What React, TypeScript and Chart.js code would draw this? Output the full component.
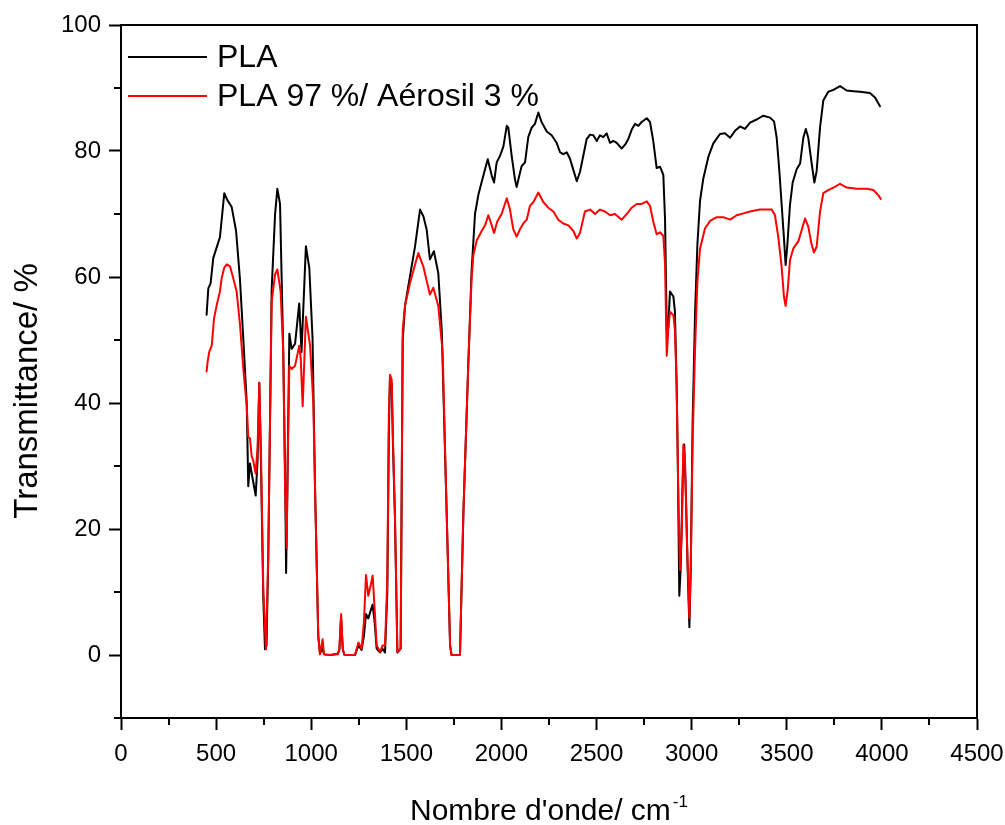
import React, { useEffect, useRef } from "react";
import { Chart, registerables } from "chart.js";

Chart.register(...registerables);

const seriesLabels = ["PLA", "PLA 97 %/ Aérosil 3 %"];
const xTickValues = [0, 500, 1000, 1500, 2000, 2500, 3000, 3500, 4000, 4500];
const yTickValues = [0, 20, 40, 60, 80, 100];
const xMinorTicks = [250, 750, 1250, 1750, 2250, 2750, 3250, 3750, 4250];
const yMinorTicks = [-10, 10, 30, 50, 70, 90];

const plaWavenumber = [
  450, 459, 471, 485, 503, 520, 543, 559, 582, 605, 625, 643, 661, 669, 678, 695, 708, 718, 727, 736,
  748, 757, 765, 774, 792, 810, 822, 836, 853, 862, 868, 874, 885, 897, 915, 937, 949, 972, 990, 1007,
  1020, 1037, 1046, 1060, 1067, 1100, 1140, 1148, 1157, 1166, 1175, 1230, 1248, 1265, 1277, 1288, 1300, 1312, 1323, 1334,
  1344, 1362, 1375, 1388, 1400, 1408, 1414, 1423, 1430, 1440, 1453, 1470, 1481, 1493, 1519, 1546, 1572, 1590, 1607, 1624,
  1645, 1668, 1686, 1712, 1730, 1738, 1782, 1800, 1826, 1843, 1861, 1879, 1905, 1928, 1949, 1961, 1975, 1992, 2010, 2028,
  2036, 2054, 2071, 2080, 2094, 2106, 2124, 2141, 2159, 2176, 2194, 2211, 2238, 2264, 2290, 2308, 2325, 2343, 2360, 2378,
  2396, 2413, 2430, 2448, 2466, 2483, 2501, 2518, 2535, 2553, 2571, 2588, 2606, 2632, 2650, 2667, 2685, 2702, 2720, 2737,
  2764, 2781, 2798, 2816, 2834, 2851, 2860, 2869, 2877, 2886, 2904, 2912, 2921, 2927, 2935, 2942, 2953, 2961, 2970, 2979,
  2988, 2995, 3005, 3018, 3030, 3044, 3061, 3088, 3114, 3149, 3175, 3202, 3228, 3254, 3280, 3307, 3342, 3377, 3412, 3433,
  3447, 3461, 3473, 3485, 3494, 3503, 3517, 3531, 3552, 3570, 3587, 3600, 3613, 3631, 3645, 3657, 3675, 3692, 3718, 3745,
  3780, 3815, 3850, 3885, 3937, 3964, 3990,
];
const plaTransmittance = [
  54.0, 58.2, 59.0, 63.0, 64.7, 66.3, 73.3, 72.2, 71.1, 67.3, 59.8, 50.2, 40.0, 26.8, 30.4, 27.5, 25.3, 31.0, 43.2, 30.0,
  9.0, 0.9, 1.5, 15.0, 58.0, 70.0, 74.0, 71.6, 48.1, 30.0, 13.0, 25.0, 51.0, 48.6, 49.4, 55.8, 48.1, 64.9, 61.4, 50.2,
  26.6, 3.0, 0.2, 1.2, 0.1, 0.0, 0.2, 0.8, 6.0, 0.8, 0.0, 0.0, 1.5, 0.8, 3.0, 6.5, 5.8, 7.0, 8.0, 5.0,
  1.0, 0.4, 1.0, 0.4, 10.0, 35.0, 43.8, 43.0, 33.0, 22.0, 0.4, 1.0, 50.0, 55.4, 60.1, 64.9, 70.7, 69.6, 67.5, 62.8,
  64.1, 60.6, 51.7, 22.6, 1.5, 0.0, 0.0, 22.6, 46.4, 60.9, 70.0, 73.1, 76.1, 78.7, 76.1, 75.0, 78.2, 79.2, 80.7, 84.0,
  83.7, 79.2, 75.5, 74.3, 76.1, 77.6, 78.2, 82.2, 83.7, 84.3, 86.1, 84.6, 83.1, 82.5, 81.3, 79.8, 79.5, 79.8, 78.8, 77.0,
  75.2, 76.7, 79.2, 81.9, 82.6, 82.5, 81.6, 82.5, 82.2, 82.8, 81.3, 81.6, 81.3, 80.4, 81.0, 81.9, 83.4, 84.3, 84.0, 84.6,
  85.2, 84.6, 81.6, 77.3, 77.5, 76.2, 69.2, 51.6, 52.0, 57.7, 56.9, 54.5, 42.8, 31.1, 9.4, 13.5, 28.1, 33.4, 25.2, 13.5,
  4.4, 13.5, 36.9, 54.5, 65.1, 72.1, 75.6, 79.1, 81.2, 82.7, 82.8, 82.1, 83.2, 83.9, 83.5, 84.5, 85.0, 85.6, 85.3, 84.7,
  82.1, 76.8, 71.5, 66.2, 61.9, 65.1, 71.5, 75.0, 77.1, 78.0, 82.1, 83.5, 82.1, 78.0, 75.0, 76.8, 83.8, 88.0, 89.4, 89.7,
  90.3, 89.6, 89.5, 89.4, 89.2, 88.5, 87.1,
];

const aerWavenumber = [
  450, 455, 464, 477, 489, 503, 520, 529, 543, 556, 573, 590, 608, 626, 643, 661, 669, 678, 687, 695,
  708, 718, 727, 736, 748, 762, 774, 792, 810, 822, 839, 853, 862, 871, 876, 885, 897, 915, 937, 945,
  955, 972, 994, 1011, 1020, 1037, 1046, 1060, 1067, 1100, 1140, 1148, 1157, 1166, 1175, 1230, 1248, 1265, 1277, 1288,
  1300, 1312, 1323, 1334, 1344, 1362, 1375, 1388, 1400, 1408, 1414, 1423, 1430, 1440, 1453, 1470, 1481, 1493, 1519, 1546,
  1563, 1589, 1610, 1624, 1642, 1668, 1691, 1712, 1730, 1738, 1782, 1800, 1826, 1843, 1852, 1870, 1896, 1914, 1931, 1949,
  1961, 1978, 2001, 2028, 2045, 2062, 2080, 2098, 2115, 2133, 2150, 2168, 2194, 2220, 2246, 2273, 2299, 2325, 2352, 2378,
  2396, 2413, 2439, 2466, 2492, 2518, 2544, 2571, 2597, 2632, 2659, 2685, 2711, 2737, 2764, 2781, 2798, 2816, 2834, 2851,
  2860, 2869, 2877, 2886, 2904, 2912, 2921, 2930, 2939, 2948, 2956, 2965, 2974, 2988, 2995, 3005, 3018, 3030, 3044, 3070,
  3097, 3132, 3166, 3202, 3237, 3272, 3307, 3359, 3421, 3438, 3456, 3473, 3485, 3494, 3505, 3517, 3534, 3561, 3578, 3596,
  3613, 3631, 3643, 3657, 3675, 3692, 3718, 3753, 3780, 3815, 3868, 3920, 3955, 3981, 3994,
];
const aerTransmittance = [
  45.0, 46.5, 48.1, 49.1, 53.4, 55.5, 57.7, 59.8, 61.5, 62.0, 61.7, 59.8, 57.7, 52.3, 45.4, 39.5, 34.6, 34.4, 31.5, 30.9,
  28.8, 33.0, 43.2, 32.0, 10.5, 0.9, 15.9, 56.1, 60.4, 61.2, 57.7, 48.1, 27.7, 17.0, 30.0, 45.9, 45.4, 45.9, 49.1, 47.0,
  39.5, 53.7, 49.1, 40.0, 26.6, 3.0, 0.1, 2.5, 0.1, 0.0, 0.1, 1.0, 6.5, 1.0, 0.0, 0.0, 2.0, 1.0, 5.2, 12.7,
  9.4, 11.0, 12.6, 7.0, 1.5, 0.5, 1.5, 1.5, 12.0, 38.0, 44.5, 43.7, 34.0, 22.6, 0.5, 1.0, 51.6, 55.4, 59.0, 62.0,
  63.8, 61.7, 59.0, 57.2, 58.3, 55.4, 48.0, 22.6, 1.5, 0.0, 0.0, 22.6, 46.4, 59.7, 63.4, 65.8, 67.3, 68.2, 69.8, 68.2,
  67.0, 68.8, 70.0, 72.5, 70.7, 67.6, 66.4, 67.6, 68.5, 69.1, 71.3, 71.9, 73.4, 71.9, 71.0, 70.4, 69.1, 68.5, 68.2, 67.3,
  66.1, 67.0, 70.4, 70.7, 70.0, 70.7, 70.4, 69.8, 70.0, 69.1, 70.0, 71.0, 71.6, 71.6, 72.0, 71.3, 68.8, 66.8, 67.1, 66.5,
  62.1, 47.5, 51.6, 54.5, 53.9, 51.6, 42.8, 25.2, 13.5, 19.3, 33.4, 31.1, 19.3, 5.9, 13.5, 34.0, 48.7, 59.2, 64.5, 67.7,
  68.9, 69.5, 69.5, 69.1, 69.8, 70.1, 70.4, 70.7, 70.7, 69.8, 66.2, 61.6, 56.9, 55.4, 58.0, 62.7, 64.5, 65.7, 67.4, 69.3,
  68.0, 65.1, 63.9, 64.8, 70.4, 73.3, 73.8, 74.3, 74.8, 74.2, 74.0, 74.0, 73.8, 73.0, 72.4,
];

const FONT = '"Liberation Sans", Arial, Helvetica, sans-serif';

function toPoints(xs: number[], ys: number[]) {
  return xs.map((x, i) => ({ x, y: ys[i] }));
}

const decorPlugin = {
  id: "decor",
  afterDraw(chart: any) {
    const { ctx, chartArea } = chart;
    const xs = chart.scales.x;
    const ys = chart.scales.y;
    ctx.save();
    ctx.strokeStyle = "#000";
    ctx.fillStyle = "#000";
    ctx.lineWidth = 2;
    ctx.beginPath();
    ctx.moveTo(chartArea.left, chartArea.top);
    ctx.lineTo(chartArea.right, chartArea.top);
    ctx.lineTo(chartArea.right, chartArea.bottom);
    ctx.stroke();

    ctx.beginPath();
    xMinorTicks.forEach((v) => {
      const p = Math.round(xs.getPixelForValue(v));
      ctx.moveTo(p, chartArea.bottom);
      ctx.lineTo(p, chartArea.bottom + 7);
    });
    yMinorTicks.forEach((v) => {
      const p = Math.round(ys.getPixelForValue(v));
      ctx.moveTo(chartArea.left, p);
      ctx.lineTo(chartArea.left - 7, p);
    });
    ctx.stroke();

    const legendColors = ["#000000", "#ff0000"];
    const legendY = [57, 96];
    ctx.lineWidth = 2;
    ctx.font = `32px ${FONT}`;
    ctx.textAlign = "left";
    ctx.textBaseline = "middle";
    seriesLabels.forEach((lab, i) => {
      ctx.strokeStyle = legendColors[i];
      ctx.beginPath();
      ctx.moveTo(128, legendY[i]);
      ctx.lineTo(207, legendY[i]);
      ctx.stroke();
      ctx.fillStyle = "#000";
      ctx.fillText(lab, 217, legendY[i] + 1);
    });

    ctx.save();
    ctx.translate(37, 391);
    ctx.rotate(-Math.PI / 2);
    ctx.font = `33px ${FONT}`;
    ctx.textAlign = "center";
    ctx.textBaseline = "alphabetic";
    ctx.fillText("Transmittance/ %", 0, 0);
    ctx.restore();

    const main = "Nombre d'onde/ cm";
    const sup = "-1";
    ctx.font = `30px ${FONT}`;
    const w1 = ctx.measureText(main).width;
    ctx.font = `17px ${FONT}`;
    const w2 = ctx.measureText(sup).width;
    const cx = (chartArea.left + chartArea.right) / 2;
    const start = cx - (w1 + w2 + 2) / 2;
    ctx.textAlign = "left";
    ctx.textBaseline = "alphabetic";
    ctx.font = `30px ${FONT}`;
    ctx.fillText(main, start, 820);
    ctx.font = `17px ${FONT}`;
    ctx.fillText(sup, start + w1 + 2, 807);
    ctx.restore();
  },
};

export default function App() {
  const ref = useRef<HTMLCanvasElement | null>(null);
  useEffect(() => {
    if (!ref.current) return;
    const chart = new Chart(ref.current, {
      type: "line",
      data: {
        datasets: [
          {
            label: seriesLabels[0],
            data: toPoints(plaWavenumber, plaTransmittance),
            borderColor: "#000000",
            borderWidth: 2,
            pointRadius: 0,
            tension: 0,
            fill: false,
            order: 1,
          },
          {
            label: seriesLabels[1],
            data: toPoints(aerWavenumber, aerTransmittance),
            borderColor: "#ff0000",
            borderWidth: 2,
            pointRadius: 0,
            tension: 0,
            fill: false,
            order: 0,
          },
        ],
      },
      options: {
        animation: false,
        responsive: false,
        devicePixelRatio: 1,
        layout: { padding: { top: 25, right: 28, left: 0, bottom: 0 } },
        plugins: {
          legend: { display: false },
          tooltip: { enabled: false },
        },
        elements: { line: { borderJoinStyle: "round", borderCapStyle: "round" } },
        scales: {
          x: {
            type: "linear",
            min: 0,
            max: 4500,
            afterBuildTicks: (scale: any) => {
              scale.ticks = xTickValues.map((v) => ({ value: v }));
            },
            afterFit: (scale: any) => {
              scale.height = 107;
              scale.paddingLeft = 0;
              scale.paddingRight = 0;
            },
            grid: {
              display: true,
              drawOnChartArea: false,
              drawTicks: true,
              tickLength: 12,
              tickWidth: 2,
              tickColor: "#000",
              color: "#000",
            },
            border: { display: true, color: "#000", width: 2 },
            ticks: {
              color: "#000",
              font: { family: FONT, size: 24 },
              padding: 10,
              maxRotation: 0,
              autoSkip: false,
              callback: (v: any) => String(v),
            },
          },
          y: {
            type: "linear",
            min: -10,
            max: 100,
            afterBuildTicks: (scale: any) => {
              scale.ticks = yTickValues.map((v) => ({ value: v }));
            },
            afterFit: (scale: any) => {
              scale.width = 121;
              scale.paddingTop = 0;
              scale.paddingBottom = 0;
            },
            grid: {
              display: true,
              drawOnChartArea: false,
              drawTicks: true,
              tickLength: 12,
              tickWidth: 2,
              tickColor: "#000",
              color: "#000",
            },
            border: { display: true, color: "#000", width: 2 },
            ticks: {
              color: "#000",
              font: { family: FONT, size: 24 },
              padding: 8,
              autoSkip: false,
              callback: (v: any) => String(v),
            },
          },
        },
      },
      plugins: [decorPlugin],
    });
    return () => chart.destroy();
  }, []);

  return (
    <div style={{ position: "absolute", left: 0, top: 0, width: 1005, height: 825, background: "#fff" }}>
      <canvas ref={ref} width={1005} height={825} style={{ display: "block" }} />
    </div>
  );
}
